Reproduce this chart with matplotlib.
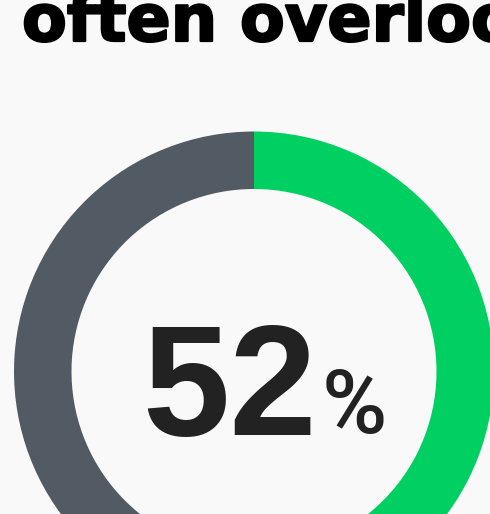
import matplotlib
matplotlib.use("Agg")
import matplotlib.pyplot as plt
import matplotlib.patheffects as pe

# Share of respondents
labels = ["Yes", "No"]
values = [52, 48]
colors = ["#00d062", "#525a64"]
title_text = "often overlooked"
value_label = "52"

W, H = 490, 514
fig = plt.figure(figsize=(W / 100, H / 100), dpi=100, facecolor="#f9f9f9")
ax = fig.add_axes([0, 0, 1, 1])
ax.set_facecolor("#f9f9f9")

cx, cy = 254, H - 371.5
outer_r, ring_w = 240, 57.5
ax.pie(values, colors=colors, startangle=90, counterclock=False,
       radius=outer_r, center=(cx, cy),
       wedgeprops=dict(width=ring_w, linewidth=0), frame=True)
ax.set_xlim(0, W)
ax.set_ylim(0, H)
ax.set_aspect("equal")
ax.axis("off")

ax.text(22, H - 41, title_text, fontsize=47, fontweight="bold",
        family=["DejaVu Sans"], color="#000000",
        ha="left", va="baseline",
        path_effects=[pe.withStroke(linewidth=1.6, foreground="#000000")])

ax.text(317, H - 435, value_label, fontsize=113, fontweight="bold",
        family=["Liberation Sans", "DejaVu Sans"], color="#222222",
        ha="right", va="baseline")
ax.text(322, H - 433, "%", fontsize=64, fontweight="medium",
        family=["Roboto", "DejaVu Sans"], color="#222222",
        ha="left", va="baseline")

fig.savefig("out.png", dpi=100, facecolor=fig.get_facecolor())
